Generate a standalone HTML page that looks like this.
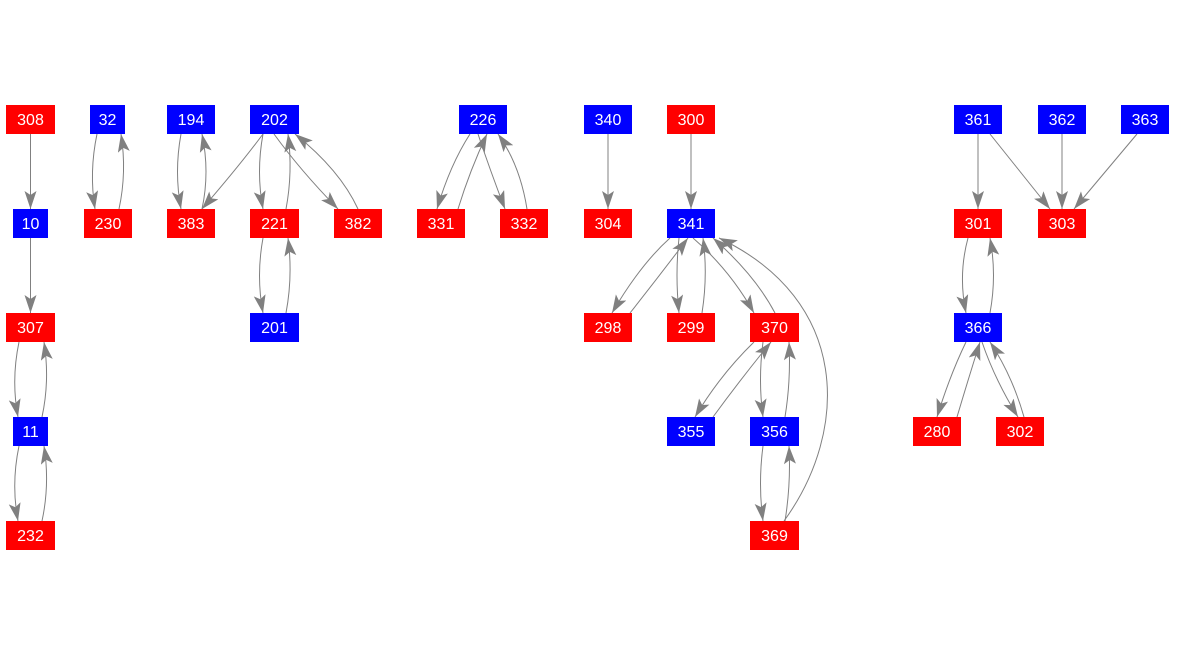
<!DOCTYPE html>
<html><head><meta charset="utf-8"><style>
html,body{margin:0;padding:0;background:#fff;}
svg{display:block;}
text{font-family:"Liberation Sans",Arial,sans-serif;font-size:16px;fill:#fff;text-anchor:middle;}
</style></head><body>
<svg width="1178" height="656" viewBox="0 0 1178 656" xmlns="http://www.w3.org/2000/svg">
<defs>
<marker id="a" markerUnits="userSpaceOnUse" markerWidth="20" markerHeight="14" refX="18" refY="6" orient="auto">
<path d="M0,0 L18,6 L0,12 L4,6 Z" fill="#808080"/>
</marker>
</defs>
<g fill="none" stroke="#808080" stroke-width="1" marker-end="url(#a)">
<path d="M30.5,134 L30.5,209"/>
<path d="M30.5,238 L30.5,313"/>
<path d="M19,342 Q11,380 18,417"/>
<path d="M42,417 Q50,380 44,342"/>
<path d="M19,446 Q11,484 18,521"/>
<path d="M42,521 Q50,484 44,446"/>
<path d="M97,134 Q89,172 95,209"/>
<path d="M119,209 Q127,172 121,134"/>
<path d="M181,134 Q174,172 181,209"/>
<path d="M202,209 Q210,172 202,134"/>
<path d="M263,134 Q240,165 202,209"/>
<path d="M263,134 Q256,172 263,209"/>
<path d="M286,209 Q293,172 288,134"/>
<path d="M274,134 Q300,170 338,209"/>
<path d="M358,209 Q340,170 295,134"/>
<path d="M263,238 Q256,276 263,313"/>
<path d="M286,313 Q293,276 288,238"/>
<path d="M470,134 Q450,165 437,209"/>
<path d="M458,209 Q470,170 487,134"/>
<path d="M478,134 Q490,170 505,209"/>
<path d="M527,209 Q520,165 498,134"/>
<path d="M608,134 L608,209"/>
<path d="M691,134 L691,209"/>
<path d="M670,238 Q640,265 612,313"/>
<path d="M630,313 Q660,275 688,238"/>
<path d="M679,238 Q675,275 679,313"/>
<path d="M702,313 Q708,275 703,238"/>
<path d="M693,238 Q730,270 754,313"/>
<path d="M775,313 Q755,275 713,238"/>
<path d="M784,521 C850,430 850,300 719,238"/>
<path d="M754,342 Q720,375 695,417"/>
<path d="M713,417 Q740,380 771,342"/>
<path d="M763,342 Q758,380 763,417"/>
<path d="M785,417 Q791,380 789,342"/>
<path d="M763,446 Q758,484 763,521"/>
<path d="M785,521 Q791,484 789,446"/>
<path d="M978,134 L978,209"/>
<path d="M990,134 L1050,209"/>
<path d="M1062,134 L1062,209"/>
<path d="M1137,134 L1074,209"/>
<path d="M968,238 Q958,275 966,313"/>
<path d="M990,313 Q997,275 990,238"/>
<path d="M966,342 Q950,375 937,417"/>
<path d="M957,417 Q968,380 980,342"/>
<path d="M982,342 Q995,380 1018,417"/>
<path d="M1024,417 Q1012,375 990,342"/>
</g>
<g>
<rect x="6" y="105" width="49" height="29" fill="#f00"/><text x="30.5" y="125">308</text>
<rect x="90" y="105" width="35" height="29" fill="#00f"/><text x="107.5" y="125">32</text>
<rect x="167" y="105" width="48" height="29" fill="#00f"/><text x="191" y="125">194</text>
<rect x="250" y="105" width="49" height="29" fill="#00f"/><text x="274.5" y="125">202</text>
<rect x="459" y="105" width="48" height="29" fill="#00f"/><text x="483" y="125">226</text>
<rect x="584" y="105" width="48" height="29" fill="#00f"/><text x="608" y="125">340</text>
<rect x="667" y="105" width="48" height="29" fill="#f00"/><text x="691" y="125">300</text>
<rect x="954" y="105" width="48" height="29" fill="#00f"/><text x="978" y="125">361</text>
<rect x="1038" y="105" width="48" height="29" fill="#00f"/><text x="1062" y="125">362</text>
<rect x="1121" y="105" width="48" height="29" fill="#00f"/><text x="1145" y="125">363</text>

<rect x="13" y="209" width="35" height="29" fill="#00f"/><text x="30.5" y="229">10</text>
<rect x="84" y="209" width="48" height="29" fill="#f00"/><text x="108" y="229">230</text>
<rect x="167" y="209" width="48" height="29" fill="#f00"/><text x="191" y="229">383</text>
<rect x="250" y="209" width="49" height="29" fill="#f00"/><text x="274.5" y="229">221</text>
<rect x="334" y="209" width="48" height="29" fill="#f00"/><text x="358" y="229">382</text>
<rect x="417" y="209" width="48" height="29" fill="#f00"/><text x="441" y="229">331</text>
<rect x="500" y="209" width="48" height="29" fill="#f00"/><text x="524" y="229">332</text>
<rect x="584" y="209" width="48" height="29" fill="#f00"/><text x="608" y="229">304</text>
<rect x="667" y="209" width="48" height="29" fill="#00f"/><text x="691" y="229">341</text>
<rect x="954" y="209" width="48" height="29" fill="#f00"/><text x="978" y="229">301</text>
<rect x="1038" y="209" width="48" height="29" fill="#f00"/><text x="1062" y="229">303</text>

<rect x="6" y="313" width="49" height="29" fill="#f00"/><text x="30.5" y="333">307</text>
<rect x="250" y="313" width="49" height="29" fill="#00f"/><text x="274.5" y="333">201</text>
<rect x="584" y="313" width="48" height="29" fill="#f00"/><text x="608" y="333">298</text>
<rect x="667" y="313" width="48" height="29" fill="#f00"/><text x="691" y="333">299</text>
<rect x="750" y="313" width="49" height="29" fill="#f00"/><text x="774.5" y="333">370</text>
<rect x="954" y="313" width="48" height="29" fill="#00f"/><text x="978" y="333">366</text>

<rect x="13" y="417" width="35" height="29" fill="#00f"/><text x="30.5" y="437">11</text>
<rect x="667" y="417" width="48" height="29" fill="#00f"/><text x="691" y="437">355</text>
<rect x="750" y="417" width="49" height="29" fill="#00f"/><text x="774.5" y="437">356</text>
<rect x="913" y="417" width="48" height="29" fill="#f00"/><text x="937" y="437">280</text>
<rect x="996" y="417" width="48" height="29" fill="#f00"/><text x="1020" y="437">302</text>

<rect x="6" y="521" width="49" height="29" fill="#f00"/><text x="30.5" y="541">232</text>
<rect x="750" y="521" width="49" height="29" fill="#f00"/><text x="774.5" y="541">369</text>
</g>
</svg>
</body></html>
